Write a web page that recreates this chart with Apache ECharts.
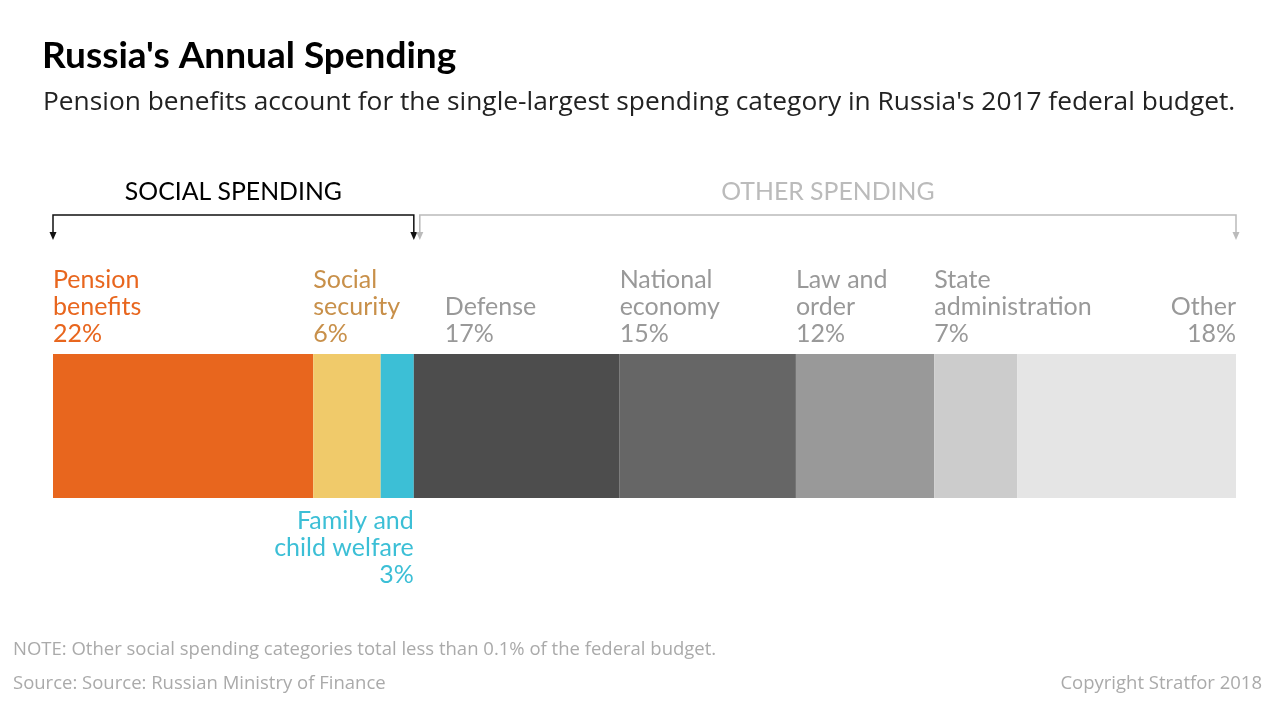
<!DOCTYPE html>
<html>
<head>
<meta charset="utf-8">
<script src="https://cdn.jsdelivr.net/npm/echarts@6/dist/echarts.min.js"></script>
<style>
html,body{margin:0;padding:0;background:#fff;}
#chart{width:1280px;height:708px;}
</style>
</head>
<body>
<div id="chart"></div>
<script>
// ---- data ----
var categories = ['Pension benefits', 'Social security', 'Family and child welfare', 'Defense', 'National economy', 'Law and order', 'State administration', 'Other'];
var labelNames = ['Pension\nbenefits', 'Social\nsecurity', 'Family and\nchild welfare', 'Defense', 'National\neconomy', 'Law and\norder', 'State\nadministration', 'Other'];
var values = [22.0, 5.7, 2.8, 17.4, 14.9, 11.7, 7.0, 18.5];
var shownPercents = [22, 6, 3, 17, 15, 12, 7, 18];
var groups = ['social', 'social', 'social', 'other', 'other', 'other', 'other', 'other'];
var groupTitles = { social: 'SOCIAL SPENDING', other: 'OTHER SPENDING' };

// ---- styles ----
var barColors = ['#E8661E', '#F0CA6A', '#3CBFD6', '#4D4D4D', '#666666', '#999999', '#CCCCCC', '#E5E5E5'];
var labelColors = ['#E8661E', '#C8904A', '#3CBFD6', '#999999', '#999999', '#999999', '#999999', '#999999'];
var labelShiftX = [0, 0, 0, 31, 0, 0, 0, 0];
var FONT = 'Lato, "Open Sans", sans-serif';

var total = values.reduce(function (a, b) { return a + b; }, 0);

var series = categories.map(function (name, i) {
  var pos, align, vAlign;
  if (i === 2) { pos = ['100%', '100%']; align = 'right'; vAlign = 'top'; }
  else if (i === categories.length - 1) { pos = ['100%', 0]; align = 'right'; vAlign = 'bottom'; }
  else { pos = [0, 0]; align = 'left'; vAlign = 'bottom'; }
  return {
    name: name,
    type: 'bar',
    stack: 'total',
    barWidth: '100%',
    data: [values[i]],
    itemStyle: { color: barColors[i] },
    label: {
      show: true,
      position: pos,
      align: align,
      verticalAlign: vAlign,
      offset: [labelShiftX[i], i === 2 ? 9 : -7],
      formatter: labelNames[i] + '\n' + shownPercents[i] + '%',
      color: labelColors[i],
      fontFamily: FONT,
      fontSize: 25,
      lineHeight: 27
    },
    silent: true
  };
});

var chart = echarts.init(document.getElementById('chart'), null, { renderer: 'canvas' });

chart.setOption({
  animation: false,
  backgroundColor: '#ffffff',
  grid: { left: 53, right: 44, top: 354, height: 144, containLabel: false },
  xAxis: { type: 'value', min: 0, max: total, show: false },
  yAxis: { type: 'category', data: ['2017'], show: false },
  series: series,
  graphic: []
});

// ---- bracket annotations computed from the axis ----
function px(v) { return chart.convertToPixel({ xAxisIndex: 0 }, v); }
var groupOrder = [];
var groupRange = {};
var cum = 0;
values.forEach(function (v, i) {
  var g = groups[i];
  if (!groupRange[g]) { groupRange[g] = [cum, cum + v]; groupOrder.push(g); }
  else groupRange[g][1] = cum + v;
  cum += v;
});

var gfx = [];
gfx.push({ type: 'text', left: 42, top: 38, style: { text: "Russia's Annual Spending", font: 'bold 37px ' + FONT, fill: '#000' } });
gfx.push({ type: 'text', left: 43, top: 90, style: { text: "Pension benefits account for the single-largest spending category in Russia's 2017 federal budget.", font: '26.3px "Open Sans", sans-serif', fill: '#222' } });
gfx.push({ type: 'text', left: 13, top: 640, style: { text: 'NOTE: Other social spending categories total less than 0.1% of the federal budget.', font: '18.5px "Open Sans", sans-serif', fill: '#aaaaaa' } });
gfx.push({ type: 'text', left: 13, top: 674, style: { text: 'Source: Source: Russian Ministry of Finance', font: '18.5px "Open Sans", sans-serif', fill: '#aaaaaa' } });
gfx.push({ type: 'text', right: 18, top: 674, style: { text: 'Copyright Stratfor 2018', font: '18.5px "Open Sans", sans-serif', fill: '#aaaaaa' } });

var bracketStyle = {
  social: { color: '#111111', text: '#000000' },
  other: { color: '#BBBBBB', text: '#BBBBBB' }
};
var yTop = 215, yArrow = 240;
groupOrder.forEach(function (g, gi) {
  var x0 = px(groupRange[g][0]);
  var x1 = px(groupRange[g][1]);
  if (gi > 0) x0 += 6;
  var c = bracketStyle[g].color;
  gfx.push({ type: 'polyline', shape: { points: [[x0, yArrow - 7], [x0, yTop], [x1, yTop], [x1, yArrow - 7]] }, style: { stroke: c, lineWidth: 1.5, fill: null } });
  [x0, x1].forEach(function (x) {
    gfx.push({ type: 'polygon', shape: { points: [[x - 3.5, yArrow - 8], [x + 3.5, yArrow - 8], [x, yArrow]] }, style: { fill: c } });
  });
  gfx.push({ type: 'text', x: (x0 + x1) / 2, y: 192, style: { text: groupTitles[g], font: '24.8px ' + FONT, fill: bracketStyle[g].text, textAlign: 'center', textVerticalAlign: 'middle' } });
});

chart.setOption({ graphic: gfx });
</script>
</body>
</html>
